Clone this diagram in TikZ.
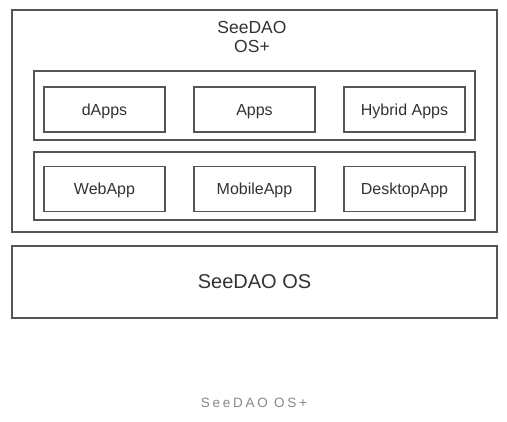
\documentclass[tikz,border=0pt]{standalone}
\usepackage{fontspec}
\setmainfont{Liberation Sans}
\newfontfamily\capfont[LetterSpace=20]{Liberation Sans}
\definecolor{edge}{HTML}{555555}
\definecolor{txt}{HTML}{333333}
\definecolor{captxt}{HTML}{888888}
\begin{document}
\begin{tikzpicture}[x=1pt,y=-1pt,
  frame/.style={draw=edge, line width=1.4pt, rectangle, inner sep=0pt},
  appbox/.style={frame, minimum width=121pt, minimum height=45pt, text=txt, text depth=0pt, font=\fontsize{16}{19}\selectfont}]
\useasboundingbox[fill=white] (0,0) rectangle (507,422);
% outer OS+ box
\node[frame, minimum width=485pt, minimum height=222pt] (osplus) at (254.5,121) {};
\node[text=txt, font=\fontsize{17.5}{19}\selectfont, align=center] (title) at (252,37) {SeeDAO\\OS+};
% group 1
\node[frame, minimum width=441pt, minimum height=69pt] (g1) at (254.5,105.5) {};
\node[appbox] (dapps) at (104.5,109.5) {dApps};
\node[appbox] (apps) at (254.5,109.5) {Apps};
\node[appbox] (hybrid) at (404.5,109.5) {Hybrid Apps};
% group 2
\node[frame, minimum width=441pt, minimum height=68pt] (g2) at (254.5,186) {};
\node[appbox] (web) at (104.5,189) {WebApp};
\node[appbox] (mobile) at (254.5,189) {MobileApp};
\node[appbox] (desktop) at (404.5,189) {DesktopApp};
% SeeDAO OS
\node[frame, minimum width=485pt, minimum height=72pt, text=txt, text depth=0pt, font=\fontsize{20}{24}\selectfont] (os) at (254.5,282) {SeeDAO OS};
% caption
\node[text=captxt, font=\capfont\fontsize{13.5}{16}\selectfont] (cap) at (254,403) {SeeDAO OS+};
\end{tikzpicture}
\end{document}
